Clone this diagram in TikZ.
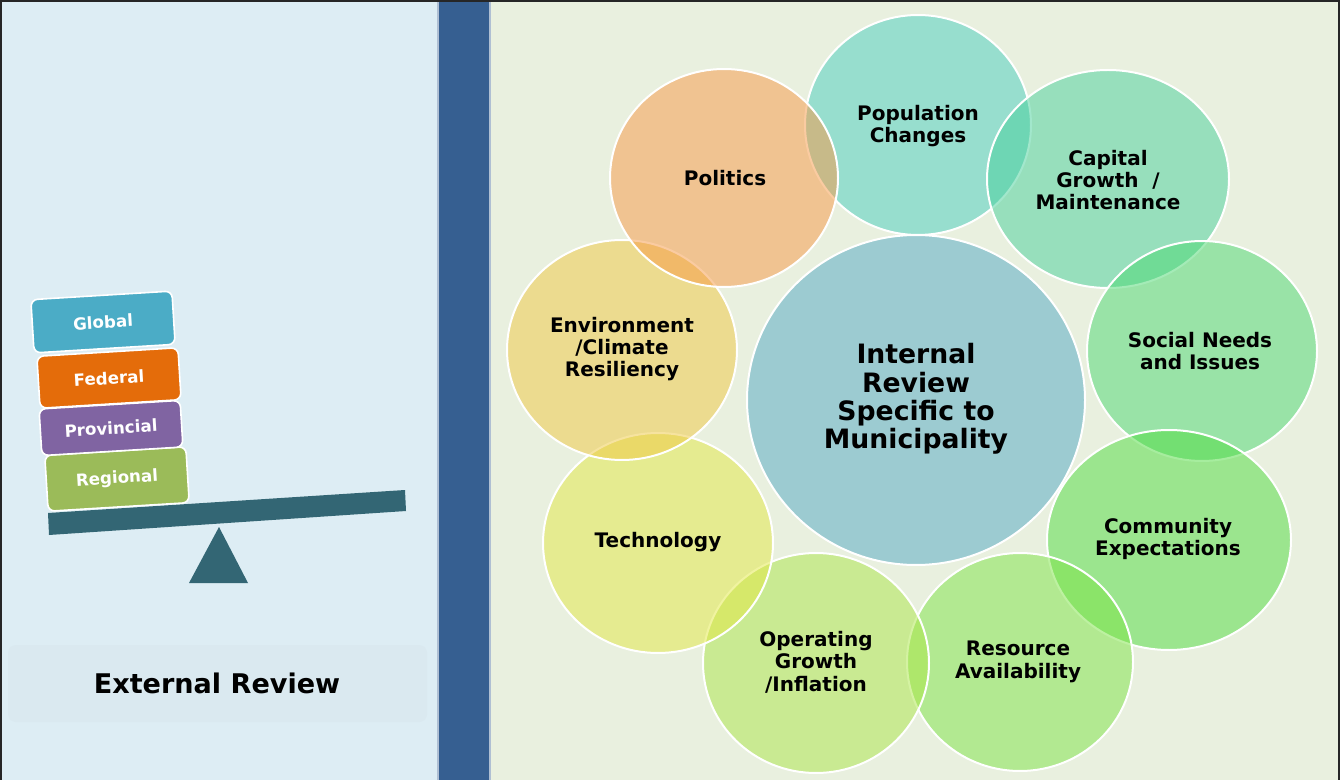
\documentclass[tikz,border=0pt]{standalone}
\usepackage{fontspec}
\setmainfont{DejaVu Sans}
\usetikzlibrary{positioning}

\definecolor{leftbg}{HTML}{DDEDF4}
\definecolor{rightbg}{HTML}{E9F0DF}
\definecolor{barblue}{HTML}{365F91}
\definecolor{beamcol}{HTML}{336674}
\definecolor{globalcol}{HTML}{4BACC6}
\definecolor{federalcol}{HTML}{E46C0A}
\definecolor{provcol}{HTML}{8064A2}
\definecolor{regcol}{HTML}{9BBB59}
\definecolor{cinternal}{HTML}{51A8C5}
\definecolor{cpop}{HTML}{47CEBF}
\definecolor{ccap}{HTML}{47D09B}
\definecolor{csoc}{HTML}{4BD871}
\definecolor{ccom}{HTML}{4FDC3F}
\definecolor{cres}{HTML}{7DE445}
\definecolor{cop}{HTML}{ABE647}
\definecolor{ctech}{HTML}{E3E843}
\definecolor{cenv}{HTML}{EFC841}
\definecolor{cpol}{HTML}{F79845}

\begin{document}
\begin{tikzpicture}[x=0.75pt,y=-0.75pt,
    block/.style={draw=white, line width=1.2pt, rounded corners=5pt, text=white,
      font=\fontsize{12.5}{14}\selectfont\bfseries, minimum width=106pt, rotate=3.5},
    bubble/.style={draw=white, line width=1.5pt, fill opacity=0.5},
    bubbletext/.style={align=center, font=\fontsize{15}{16.8}\selectfont\bfseries}]
\useasboundingbox (0,0) rectangle (1342,780);

% Panels
\fill[leftbg] (0,0) rectangle (438,780);
\fill[rightbg] (490,0) rectangle (1340,780);
\fill[barblue] (438,0) rectangle (490,780);
\draw[white!60!barblue, line width=0.8pt] (438,0) -- (438,780) (490,0) -- (490,780);
\draw[black!85, line width=1.5pt] (1,780) -- (1,1) -- (1339,1) -- (1339,780);

% External review box
\fill[rounded corners=6pt, black!1.5!leftbg] (8,645) rectangle (427,722);
\node[font=\fontsize{20.3}{24}\selectfont\bfseries] (external) at (217,683) {External Review};

% Seesaw
\fill[beamcol] (48,513) -- (405,490) -- (406,511) -- (49,535) -- cycle;
\fill[beamcol] (219,527) -- (248,583) -- (189,583) -- cycle;

% Stacked blocks
\node[block, fill=regcol, minimum height=42pt] (regional) at (117,479) {Regional};
\node[block, fill=provcol, minimum height=35pt] (provincial) at (111,428) {Provincial};
\node[block, fill=federalcol, minimum height=39pt] (federal) at (109,378) {Federal};
\node[block, fill=globalcol, minimum height=40pt] (global) at (103,322) {Global};

% Circles
\foreach \cx/\cy/\rx/\ry/\col in {916/400/169/165/cinternal, 918/125/113/110/cpop,
    1108/179/121/109/ccap, 1202/351/115/110/csoc, 1169/540/122/110/ccom,
    1020/662/113/109/cres, 816/663/113/110/cop, 658/543/115/110/ctech,
    622/350/115/110/cenv, 724/178/114/109/cpol}
  \draw[bubble, fill=\col] (\cx,\cy) ellipse [x radius=\rx, y radius=\ry];

% Labels
\node[bubbletext, font=\fontsize{20}{21.3}\selectfont\bfseries] (internal) at (916,399)
  {Internal\\Review\\Specific to\\Municipality};
\node[bubbletext] (population) at (918,126) {Population\\Changes};
\node[bubbletext] (capital) at (1108,180) {Capital\\Growth\ \ /\\Maintenance};
\node[bubbletext] (social) at (1200,351) {Social Needs\\and Issues};
\node[bubbletext] (community) at (1168,539) {Community\\Expectations};
\node[bubbletext] (resource) at (1018,662) {Resource\\Availability};
\node[bubbletext] (operating) at (816,662) {Operating\\Growth\\/Inflation};
\node[bubbletext] (technology) at (658,542) {Technology};
\node[bubbletext] (environment) at (622,349) {Environment\\/Climate\\Resiliency};
\node[bubbletext] (politics) at (725,178) {Politics};
\end{tikzpicture}
\end{document}
